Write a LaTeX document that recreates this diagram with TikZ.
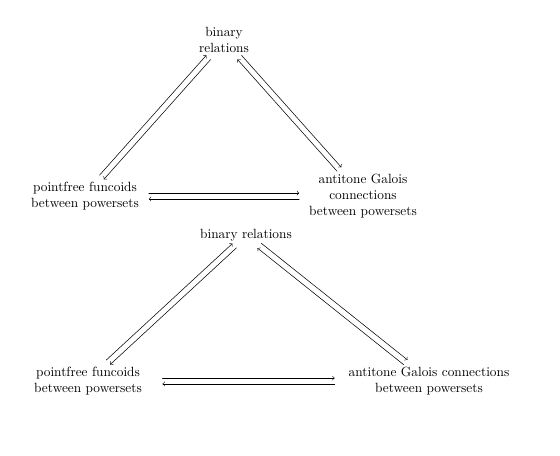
\documentclass[tikz,border=0pt]{standalone}
\begin{document}
\begin{tikzpicture}[x=0.75pt,y=-0.75pt,>=to,line cap=round,
	every node/.style={align=center},
	lift/.style={transform canvas={shift={#1}}}]
	\useasboundingbox (0,0) rectangle (560,456);
	% upper triangle
	\node (br1) at (224,40) {binary\\relations};
	\node (pf1) at (85,196) {pointfree funcoids\\between powersets};
	\node (ag1) at (363,196) {antitone Galois\\connections\\between powersets};
	\draw[->,lift={(-1.6pt,1.6pt)}] (pf1) -- (br1);
	\draw[->,lift={(1.6pt,-1.6pt)}] (br1) -- (pf1);
	\draw[->,lift={(1.6pt,1.5pt)}] (br1) -- (ag1);
	\draw[->,lift={(-1.6pt,-1.5pt)}] (ag1) -- (br1);
	\draw[->,lift={(0,2.2pt)},shorten <=4pt,shorten >=4pt] (pf1.east) -- (pf1.east -| ag1.west);
	\draw[->,lift={(0,-2.2pt)},shorten <=4pt,shorten >=4pt] (pf1.east -| ag1.west) -- (pf1.east);
	% lower triangle
	\node (br2) at (246,235) {binary relations};
	\node (pf2) at (88,381) {pointfree funcoids\\between powersets};
	\node (ag2) at (429,381) {antitone Galois connections\\between powersets};
	\draw[->,lift={(-1.5pt,1.65pt)}] (pf2) -- (br2);
	\draw[->,lift={(1.5pt,-1.65pt)}] (br2) -- (pf2);
	\draw[->,lift={(1.45pt,1.8pt)}] (br2) -- (ag2);
	\draw[->,lift={(-1.45pt,-1.8pt)}] (ag2) -- (br2);
	\draw[->,lift={(0,2.2pt)},shorten <=12pt,shorten >=7pt] (pf2.east) -- (pf2.east -| ag2.west);
	\draw[->,lift={(0,-2.2pt)},shorten <=7pt,shorten >=12pt] (pf2.east -| ag2.west) -- (pf2.east);
\end{tikzpicture}
\end{document}
